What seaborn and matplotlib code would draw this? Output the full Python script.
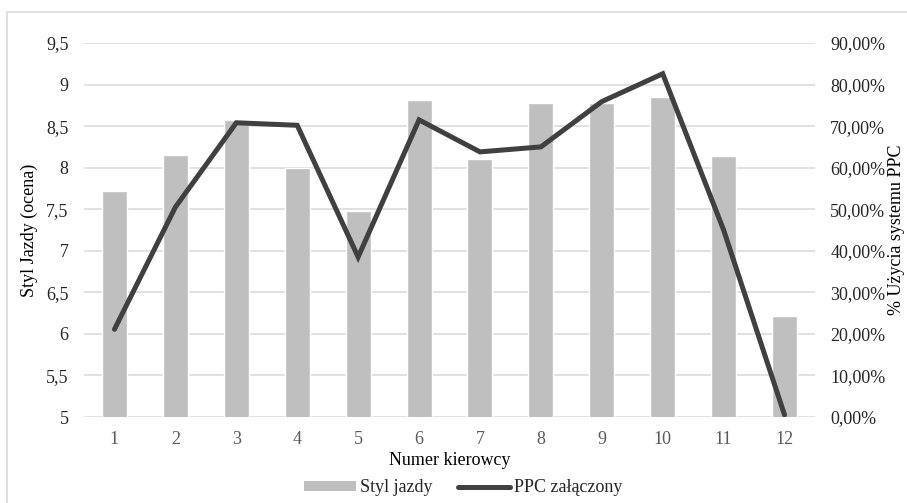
import numpy as np
import pandas as pd
import matplotlib
matplotlib.use("Agg")
import matplotlib.pyplot as plt
import seaborn as sns
from matplotlib.patches import Rectangle, Patch
from matplotlib.lines import Line2D
from matplotlib.ticker import FuncFormatter, MultipleLocator

drivers = ["1", "2", "3", "4", "5", "6", "7", "8", "9", "10", "11", "12"]
styl_jazdy = [7.72, 8.15, 8.57, 8.00, 7.48, 8.81, 8.10, 8.78, 8.78, 8.85, 8.14, 6.22]
ppc_pct = [0.211, 0.505, 0.708, 0.702, 0.385, 0.715, 0.638, 0.650, 0.759, 0.826, 0.450, 0.005]

sns.set_theme(style="white")
plt.rcParams["font.family"] = ["Liberation Serif", "DejaVu Serif"]

df = pd.DataFrame({"kierowca": drivers, "styl": styl_jazdy, "ppc": ppc_pct})

fig = plt.figure(figsize=(9.07, 5.03), dpi=100)
W, H = 907, 503
ax = fig.add_axes([84 / W, 1 - 417 / H, (815 - 84) / W, (417 - 43) / H])

# outer frame (right and bottom edges fall outside the canvas, as in the reference)
fig.patches.append(Rectangle((7 / W, -5 / H), (920 - 7) / W, (491 + 5) / H,
                             transform=fig.transFigure, fill=False,
                             edgecolor="#d9d9d9", linewidth=1.2))

sns.barplot(data=df, x="kierowca", y="styl", color="#bfbfbf", width=0.41,
            saturation=1, ax=ax, zorder=2)
ax.set_ylim(5, 9.5)
ax.set_xlim(-0.5, len(drivers) - 0.5)
ax.yaxis.set_major_locator(MultipleLocator(0.5))
ax.yaxis.set_major_formatter(FuncFormatter(lambda v, p: (f"{v:g}").replace(".", ",")))
ax.grid(axis="y", color="#d9d9d9", linewidth=1.1, zorder=0)
ax.set_axisbelow(True)
for s in ax.spines.values():
    s.set_visible(False)
ax.tick_params(axis="both", length=0, labelsize=13)
ax.tick_params(axis="y", pad=11, colors="#262626")
ax.tick_params(axis="x", pad=10, colors="#595959")
ax.set_xlabel("Numer kierowcy", fontsize=13, color="#000000", labelpad=3)
ax.set_ylabel("Styl Jazdy (ocena)", fontsize=13, color="#000000", labelpad=6)

ax2 = ax.twinx()
sns.lineplot(x=np.arange(len(drivers)), y=df["ppc"], color="#404040",
             linewidth=3.6, ax=ax2, solid_capstyle="round", solid_joinstyle="miter")
ax2.set_ylim(0, 0.9)
ax2.yaxis.set_major_locator(MultipleLocator(0.1))
ax2.yaxis.set_major_formatter(FuncFormatter(lambda v, p: (f"{v*100:.2f}%").replace(".", ",")))
for s in ax2.spines.values():
    s.set_visible(False)
ax2.tick_params(axis="y", length=0, labelsize=13, pad=11, colors="#262626")
ax2.set_ylabel("% Użycia systemu PPC", fontsize=13, color="#000000", labelpad=2)
ax2.set_xlim(-0.5, len(drivers) - 0.5)

handles = [Patch(facecolor="#bfbfbf", edgecolor="none"),
           Line2D([0], [0], color="#404040", linewidth=3.6, solid_capstyle="round")]
fig.legend(handles, ["Styl jazdy", "PPC załączony"], loc="center",
           bbox_to_anchor=(463 / W, 1 - 488 / H), ncol=2, frameon=False,
           fontsize=13, handlelength=2.9, handleheight=0.5, handletextpad=0.2,
           columnspacing=1.4)

fig.savefig("out.png", dpi=100)
